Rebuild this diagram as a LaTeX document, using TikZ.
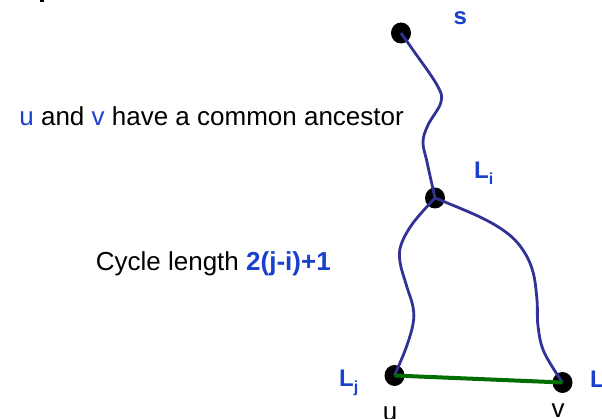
\documentclass[tikz,border=0pt]{standalone}
\usepackage{fontspec}
\setmainfont{Liberation Sans}
\usetikzlibrary{shapes.geometric}
\definecolor{txtblue}{RGB}{25,65,205}
\definecolor{pathblue}{RGB}{50,50,150}
\definecolor{edgegreen}{RGB}{0,110,0}
\begin{document}
\begin{tikzpicture}[x=1pt,y=-1pt,
  dot/.style={ellipse,fill=black,minimum width=20pt,minimum height=21pt,inner sep=0pt},
  lbl/.style={text=txtblue,font=\fontsize{24}{24}\selectfont\bfseries,inner sep=0pt,anchor=base west},
  plain/.style={font=\fontsize{26}{26}\selectfont,inner sep=0pt},
  treepath/.style={draw=pathblue,line width=2.8pt},
  crossedge/.style={draw=edgegreen,line width=4pt}]
\useasboundingbox (0,0) rectangle (602,419);
\clip (0,0) rectangle (602,419);
\fill (40,0) rectangle (44,2);
% vertices
\node[dot] (s) at (401,33) {};
\node[dot] (Li) at (435,198) {};
\node[dot] (u) at (394.5,375.5) {};
\node[dot] (v) at (562.5,382.5) {};
% paths
\draw[treepath] plot[smooth,tension=0.6] coordinates {(s.center) (413,50) (437,85) (441,102) (428,125) (423,142) (427,162) (Li.center)};
\draw[treepath] plot[smooth,tension=0.6] coordinates {(Li.center) (413,223) (401,245) (400,262) (406,284) (413,307) (413,324) (406,348) (u.center)};
\draw[treepath] plot[smooth,tension=0.6] coordinates {(Li.center) (480,217) (507,233) (523,250) (533,272) (537,300) (538,326) (544,352) (v.center)};
\draw[crossedge] (u.center) -- (v.center);
% labels
\node[lbl] (slab) at (453.3,25) {s};
\node[lbl] (Lilab) at (474,179) {L\raisebox{-6pt}{\fontsize{16}{16}\selectfont i}};
\node[lbl] (Ljlab) at (339,386) {L\raisebox{-6pt}{\fontsize{16}{16}\selectfont j}};
\node[lbl] (Llab) at (590,387) {L};
\node[plain,anchor=base] (ulab) at (390,420) {u};
\node[plain,anchor=base] (vlab) at (558,417) {v};
\node[plain,anchor=base west] (anc) at (19.2,126) {\textcolor{txtblue}{u} and \textcolor{txtblue}{v} have a common ancestor};
\node[plain,anchor=base west] (cyc) at (95.7,271) {Cycle length \textcolor{txtblue}{\bfseries 2(j-i)+1}};
\end{tikzpicture}
\end{document}
